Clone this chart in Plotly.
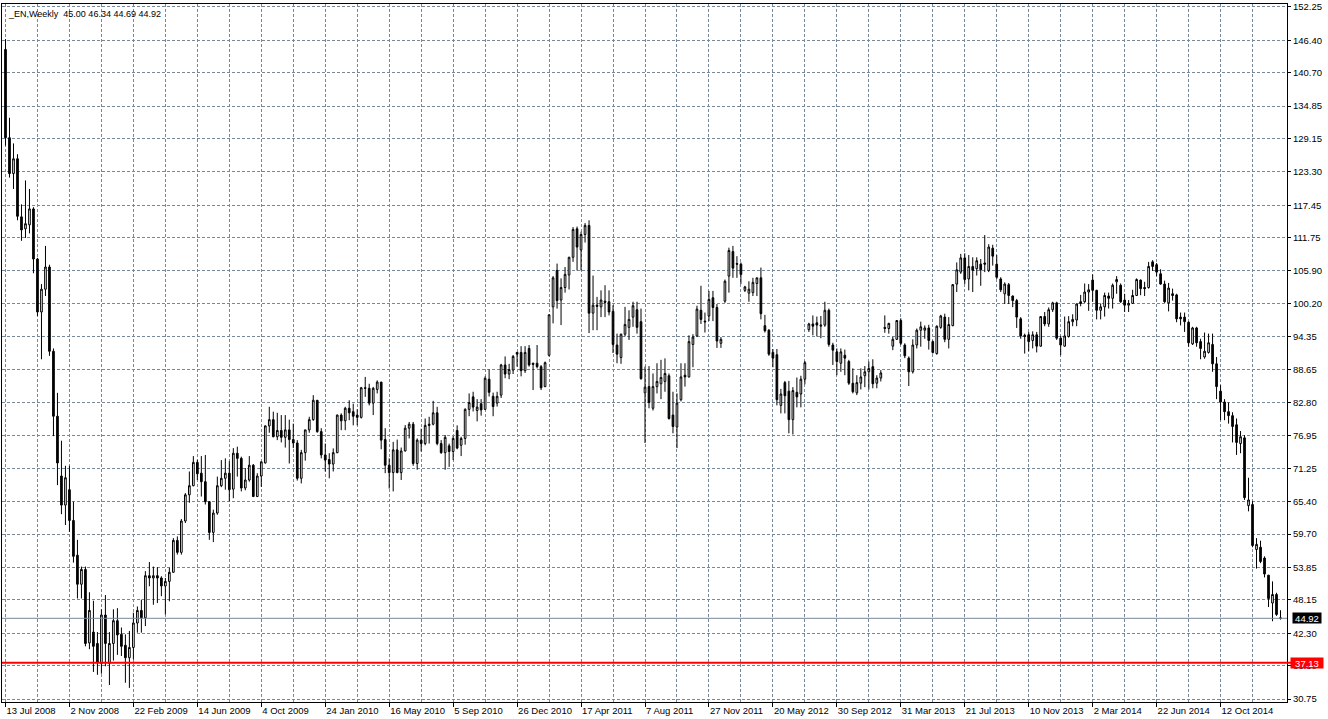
import plotly.graph_objects as go

# ---------------- data ----------------
symbol_title = "_EN,Weekly"
last_ohlc = ["45.00", "46.34", "44.69", "44.92"]

date_labels = ["13 Jul 2008", "2 Nov 2008", "22 Feb 2009", "14 Jun 2009", "4 Oct 2009",
               "24 Jan 2010", "16 May 2010", "5 Sep 2010", "26 Dec 2010", "17 Apr 2011",
               "7 Aug 2011", "27 Nov 2011", "20 May 2012", "30 Sep 2012", "31 Mar 2013",
               "21 Jul 2013", "10 Nov 2013", "2 Mar 2014", "22 Jun 2014", "12 Oct 2014"]
bars_per_label = 16
bars_per_grid = 8

price_labels = ["152.25", "146.40", "140.70", "134.85", "129.15", "123.30", "117.45",
                "111.75", "105.90", "100.20", "94.35", "88.65", "82.80", "76.95", "71.25",
                "65.40", "59.70", "53.85", "48.15", "42.30", "36.60", "30.75"]

bid_price = 44.92
level_price = 37.13

open_ = [
    144.8, 129.3, 123.0, 125.6, 115.4, 113.3, 114.0, 116.8, 108.0, 98.7,
    102.7, 106.6, 91.8, 80.4, 69.9, 64.8, 67.5, 62.1, 56.0, 50.9,
    53.5, 40.6, 42.5, 40.5, 37.0, 45.5, 37.0, 40.5, 44.5, 42.1,
    40.2, 38.0, 39.8, 44.1, 46.3, 45.0, 52.4, 52.0, 52.4, 52.0,
    50.6, 51.4, 53.0, 58.6, 56.5, 62.0, 66.6, 68.2, 72.3, 70.4,
    68.9, 65.4, 60.0, 63.4, 68.2, 69.5, 70.4, 67.6, 73.9, 73.0,
    67.8, 69.2, 71.8, 66.3, 69.9, 72.2, 78.7, 79.8, 76.8, 77.9,
    76.7, 78.0, 76.3, 75.7, 69.5, 74.0, 78.0, 79.8, 83.2, 77.7,
    73.6, 72.8, 72.0, 74.0, 80.6, 79.6, 81.8, 81.2, 80.6, 80.2,
    85.4, 85.3, 82.7, 85.1, 86.4, 76.3, 71.8, 70.5, 74.5, 70.5,
    74.3, 78.3, 79.0, 72.1, 76.2, 75.6, 79.0, 79.0, 81.0, 75.6,
    74.0, 75.2, 74.2, 77.9, 75.3, 76.5, 81.6, 83.8, 81.4, 82.6,
    81.6, 86.9, 83.9, 82.7, 84.1, 89.4, 87.8, 88.5, 91.6, 91.6,
    88.4, 92.3, 89.7, 89.7, 89.1, 85.6, 91.1, 99.6, 106.0, 100.8,
    103.0, 105.2, 108.3, 113.3, 109.6, 112.3, 113.9, 98.5, 99.9, 99.6,
    100.6, 100.5, 98.8, 92.9, 90.7, 94.8, 96.0, 97.8, 99.1, 97.0,
    84.5, 85.6, 81.8, 85.6, 86.1, 86.5, 87.5, 80.6, 78.5, 83.3,
    87.6, 87.3, 93.0, 94.5, 99.0, 97.1, 98.0, 101.2, 99.5, 93.2,
    100.6, 105.0, 109.3, 107.2, 107.1, 102.5, 102.0, 102.1, 103.7, 104.7,
    96.3, 95.5, 91.6, 91.2, 82.3, 86.3, 84.8, 79.8, 84.6, 84.3,
    86.9, 95.6, 96.6, 96.8, 96.2, 96.4, 99.0, 92.9, 91.7, 89.7,
    91.1, 90.0, 86.2, 84.5, 86.2, 87.5, 88.2, 89.1, 86.2, 87.1,
    96.0, 95.8, 92.7, 93.9, 97.2, 92.9, 90.6, 88.2, 92.9, 95.5,
    95.5, 95.9, 93.5, 91.4, 96.0, 97.8, 93.9, 96.3, 103.6, 105.7,
    108.2, 104.5, 106.7, 106.3, 107.1, 107.3, 106.0, 109.9, 107.1, 104.5,
    101.9, 103.5, 101.5, 100.7, 97.5, 94.6, 94.7, 93.7, 94.7, 92.7,
    97.9, 96.6, 99.1, 100.3, 94.1, 92.7, 94.4, 97.0, 97.3, 100.5,
    100.5, 102.2, 104.3, 102.5, 99.0, 99.6, 101.5, 101.1, 104.0, 103.4,
    100.8, 99.9, 100.2, 101.6, 104.3, 103.0, 103.0, 107.5, 107.0, 105.4,
    103.6, 100.3, 101.9, 101.7, 97.8, 97.8, 96.9, 93.1, 95.9, 93.5,
    90.8, 91.6, 93.0, 89.6, 84.8, 82.9, 81.2, 80.5, 78.9, 75.6,
    76.6, 64.7, 64.9, 57.0, 57.4, 55.5, 52.5, 47.6, 49.1, 45.00,
]

high_ = [
    146.6, 132.8, 128.3, 126.4, 117.6, 121.8, 120.3, 117.1, 108.2, 103.6,
    110.3, 107.0, 92.3, 84.5, 76.1, 71.7, 71.7, 65.4, 58.7, 54.0,
    54.0, 49.5, 48.0, 42.5, 46.5, 49.0, 42.5, 46.5, 46.7, 43.3,
    42.1, 42.7, 45.9, 47.0, 48.2, 53.2, 54.8, 54.0, 53.9, 52.3,
    52.0, 53.8, 59.0, 59.3, 62.35, 66.9, 70.7, 73.4, 72.75, 73.4,
    73.6, 65.4, 64.0, 69.8, 72.7, 73.0, 72.5, 74.8, 75.05, 73.3,
    71.3, 73.4, 72.0, 70.4, 72.4, 78.8, 82.05, 81.2, 81.0, 80.6,
    80.6, 79.8, 79.1, 76.2, 74.5, 78.0, 80.3, 84.1, 83.2, 78.3,
    75.6, 73.9, 74.75, 80.7, 80.9, 82.05, 83.2, 82.6, 81.6, 85.55,
    87.3, 86.1, 85.55, 86.7, 86.4, 78.3, 73.0, 75.9, 76.3, 74.9,
    78.85, 79.4, 79.4, 76.5, 78.2, 80.0, 80.3, 83.1, 82.05, 76.2,
    77.1, 75.6, 76.9, 78.8, 76.8, 81.8, 84.4, 84.7, 83.4, 83.4,
    87.4, 88.6, 84.55, 84.7, 89.6, 90.9, 89.6, 91.15, 91.7, 92.7,
    92.7, 92.9, 89.8, 92.9, 89.4, 90.0, 98.3, 105.0, 107.2, 104.6,
    106.6, 108.4, 113.6, 113.7, 112.8, 114.3, 114.8, 105.1, 101.35, 102.5,
    103.4, 102.5, 99.9, 94.9, 94.9, 99.6, 99.0, 100.5, 100.5, 99.3,
    89.1, 89.2, 87.9, 89.7, 90.3, 90.55, 87.9, 84.7, 84.4, 89.7,
    89.7, 94.6, 94.8, 99.8, 103.3, 98.6, 102.4, 102.4, 100.1, 94.3,
    104.4, 110.0, 110.3, 108.5, 107.4, 103.3, 104.1, 104.7, 104.7, 106.5,
    98.2, 95.7, 92.2, 92.2, 85.2, 86.6, 86.6, 85.5, 87.2, 87.5,
    90.1, 96.8, 98.1, 97.9, 98.0, 100.5, 99.3, 93.3, 92.3, 92.3,
    92.1, 90.3, 88.8, 87.6, 88.8, 89.2, 90.0, 90.4, 87.6, 88.5,
    98.1, 96.8, 94.35, 97.3, 97.6, 93.2, 90.9, 93.9, 95.8, 97.0,
    96.35, 96.45, 93.7, 96.35, 98.2, 98.4, 97.8, 103.6, 107.4, 108.9,
    109.0, 108.7, 108.3, 108.3, 108.0, 112.2, 110.6, 110.5, 108.7, 104.8,
    103.9, 103.8, 101.6, 101.0, 97.8, 94.9, 95.2, 95.3, 95.2, 97.97,
    98.7, 99.5, 100.5, 100.5, 94.5, 97.9, 97.97, 98.3, 100.2, 101.7,
    103.7, 103.6, 105.3, 102.6, 100.2, 102.1, 102.1, 103.7, 105.0, 103.7,
    101.9, 100.8, 102.6, 104.6, 104.4, 104.0, 107.5, 107.8, 107.3, 106.2,
    104.2, 103.8, 102.8, 101.9, 98.6, 98.6, 97.05, 96.1, 96.1, 94.0,
    95.1, 94.9, 94.9, 90.8, 85.85, 83.4, 82.8, 81.1, 80.0, 77.8,
    77.1, 69.6, 65.5, 59.0, 58.55, 55.8, 52.5, 51.4, 49.4, 46.34,
]

low_ = [
    127.9, 122.3, 120.3, 114.8, 111.2, 111.7, 112.5, 105.5, 98.0, 90.4,
    101.5, 91.0, 76.9, 68.3, 63.2, 61.3, 60.1, 54.7, 48.4, 48.4,
    40.0, 39.5, 35.5, 35.0, 35.2, 36.5, 33.2, 37.5, 38.5, 38.3,
    33.6, 32.7, 37.7, 42.4, 42.4, 43.55, 50.55, 47.3, 47.6, 48.8,
    45.6, 47.9, 52.9, 56.1, 56.1, 61.65, 65.2, 68.1, 69.2, 66.3,
    64.9, 58.7, 58.3, 63.1, 67.95, 67.5, 65.45, 66.0, 69.8, 67.2,
    67.4, 68.9, 66.2, 66.2, 68.0, 72.1, 77.5, 76.7, 76.2, 75.8,
    74.9, 72.1, 74.8, 69.1, 68.6, 72.6, 77.5, 79.6, 77.5, 73.0,
    70.7, 69.5, 70.7, 73.9, 77.95, 77.95, 79.7, 78.8, 78.8, 80.0,
    83.8, 82.3, 80.6, 84.4, 74.6, 70.4, 67.7, 67.2, 70.4, 69.2,
    74.2, 76.5, 71.7, 71.0, 74.2, 75.3, 75.6, 78.8, 75.3, 73.8,
    71.0, 71.5, 72.7, 74.6, 73.4, 75.4, 80.4, 81.23, 79.5, 80.5,
    81.5, 83.86, 80.4, 82.1, 83.6, 87.07, 86.9, 87.8, 89.1, 87.4,
    88.0, 89.1, 85.0, 88.8, 85.0, 85.5, 90.9, 96.7, 99.3, 96.4,
    102.1, 102.65, 107.5, 106.0, 106.0, 110.9, 95.0, 95.5, 95.5, 97.8,
    97.8, 98.1, 91.5, 89.7, 89.6, 94.4, 93.8, 96.1, 94.9, 86.8,
    75.7, 81.8, 81.4, 84.4, 83.4, 84.7, 79.8, 77.4, 74.8, 83.0,
    85.6, 87.2, 89.0, 94.3, 96.6, 95.1, 97.1, 97.1, 92.4, 92.4,
    100.3, 102.1, 104.7, 104.7, 103.6, 102.2, 100.5, 101.5, 101.5, 97.4,
    95.1, 91.0, 89.0, 82.3, 80.9, 80.9, 77.4, 77.2, 81.96, 81.96,
    86.0, 95.2, 94.6, 94.4, 94.1, 96.1, 92.6, 89.4, 87.6, 88.2,
    87.6, 85.9, 84.4, 84.1, 85.1, 85.5, 85.1, 85.3, 85.3, 86.5,
    95.05, 94.9, 92.0, 93.8, 92.9, 90.6, 85.7, 87.9, 92.3, 92.6,
    94.0, 92.1, 91.4, 91.2, 95.75, 93.4, 92.3, 96.2, 102.2, 105.4,
    103.6, 102.5, 102.2, 105.1, 103.3, 105.7, 105.7, 106.85, 104.5, 102.2,
    100.1, 100.1, 99.55, 95.9, 94.0, 91.4, 91.8, 92.3, 91.6, 92.6,
    96.2, 96.1, 98.7, 93.8, 91.1, 92.6, 94.2, 96.2, 96.2, 99.7,
    100.3, 98.9, 100.5, 97.4, 97.4, 97.9, 99.3, 99.3, 101.9, 100.3,
    98.7, 98.7, 100.1, 101.5, 101.65, 101.5, 102.8, 105.9, 105.0, 103.5,
    100.3, 98.8, 100.7, 96.9, 96.35, 95.2, 92.6, 92.9, 92.6, 90.4,
    90.5, 91.4, 88.2, 83.4, 79.7, 79.7, 79.1, 75.8, 73.6, 73.9,
    65.7, 63.7, 57.4, 53.65, 54.6, 52.1, 46.9, 44.4, 45.35, 44.69,
]

close_ = [
    129.3, 123.0, 125.6, 115.5, 113.1, 114.2, 116.8, 108.0, 98.7, 102.7,
    106.6, 91.8, 80.4, 72.2, 64.8, 69.6, 62.1, 55.8, 50.9, 53.5,
    40.5, 46.3, 40.0, 37.2, 45.5, 40.5, 40.5, 44.5, 42.0, 40.0,
    38.0, 39.8, 44.1, 46.3, 45.0, 52.4, 52.0, 52.4, 52.0, 50.6,
    51.4, 53.0, 58.6, 56.5, 62.0, 66.6, 68.2, 72.3, 70.3, 68.9,
    65.4, 60.0, 63.4, 68.2, 69.5, 70.4, 67.5, 73.9, 73.0, 67.8,
    69.2, 71.8, 66.3, 69.9, 72.4, 78.7, 79.8, 76.8, 77.9, 76.7,
    78.0, 76.3, 75.7, 69.5, 74.0, 78.0, 79.8, 83.2, 77.7, 73.6,
    72.7, 72.0, 74.0, 80.6, 79.6, 81.8, 81.0, 80.4, 80.2, 85.4,
    85.3, 82.7, 85.3, 86.4, 76.2, 71.8, 70.5, 74.5, 70.5, 74.3,
    78.3, 79.0, 72.1, 76.2, 75.6, 78.8, 78.8, 81.0, 75.6, 74.0,
    76.7, 74.2, 76.5, 74.8, 76.5, 81.6, 82.8, 82.0, 82.0, 81.5,
    87.07, 84.6, 82.1, 83.9, 89.4, 87.8, 88.6, 90.9, 91.3, 88.4,
    91.6, 89.4, 89.5, 89.1, 85.4, 89.8, 98.2, 104.7, 100.7, 103.0,
    105.3, 108.3, 113.2, 110.1, 112.3, 113.9, 98.5, 99.9, 99.7, 100.8,
    100.4, 98.7, 93.0, 91.3, 94.8, 96.5, 97.4, 99.8, 96.0, 87.0,
    85.5, 82.8, 85.6, 86.5, 87.2, 87.9, 80.0, 78.6, 82.7, 87.3,
    87.3, 93.5, 94.3, 99.2, 97.4, 96.97, 100.9, 99.5, 93.6, 93.9,
    104.1, 109.5, 106.4, 107.1, 105.3, 103.1, 102.7, 103.9, 104.7, 98.4,
    95.4, 91.3, 90.6, 83.3, 84.3, 84.0, 79.8, 84.9, 83.8, 86.9,
    89.8, 96.6, 96.2, 96.4, 96.4, 99.0, 93.0, 92.0, 90.0, 91.7,
    90.6, 86.2, 84.7, 86.3, 87.3, 88.2, 88.8, 86.1, 87.1, 88.0,
    95.8, 96.7, 93.9, 97.2, 93.2, 91.0, 88.2, 92.9, 95.5, 96.1,
    95.9, 93.7, 91.6, 96.2, 98.0, 93.9, 96.5, 103.5, 106.1, 108.2,
    104.4, 106.7, 106.0, 107.7, 106.1, 107.1, 110.1, 108.5, 104.8, 102.6,
    103.6, 101.6, 100.7, 97.8, 94.5, 94.4, 93.5, 94.7, 92.7, 97.9,
    96.6, 99.1, 100.3, 94.1, 92.9, 94.5, 97.0, 97.4, 100.1, 100.2,
    102.2, 102.6, 102.5, 99.0, 99.6, 101.6, 101.1, 103.4, 104.4, 100.5,
    99.9, 100.2, 101.6, 104.4, 102.8, 102.8, 106.7, 106.7, 105.7, 103.6,
    100.5, 102.9, 101.6, 97.5, 97.5, 97.0, 93.3, 95.9, 93.3, 92.3,
    91.8, 93.3, 89.6, 85.6, 82.9, 81.2, 80.5, 78.6, 75.8, 76.8,
    66.1, 65.7, 57.7, 57.9, 54.9, 52.7, 48.4, 49.1, 45.6, 44.92,
]

# ---------------- figure ----------------
W, H = 1328, 719
PLOT_L, PLOT_R, PLOT_T, PLOT_B = 1, 1287, 2, 702   # plot frame in pixels
BAR_PX, BAR0_PX = 4.0, 4.5                          # bar spacing / first bar centre
Y_TOP_PX, Y_BOT_PX = 5.0, 699.0                     # pixel rows of top/bottom price labels

n = len(close_)
x = list(range(n))

p_top, p_bot = float(price_labels[0]), float(price_labels[-1])
ppx = (p_top - p_bot) / (Y_BOT_PX - Y_TOP_PX)
y_range = [p_bot - (PLOT_B - Y_BOT_PX) * ppx, p_top + (Y_TOP_PX - PLOT_T) * ppx]
x_range = [(PLOT_L - BAR0_PX) / BAR_PX, (PLOT_R - BAR0_PX) / BAR_PX]

GRID = "#778899"
FONT = "Liberation Sans"

fig = go.Figure(go.Candlestick(
    x=x, open=open_, high=high_, low=low_, close=close_,
    increasing=dict(line=dict(color="black", width=1), fillcolor="white"),
    decreasing=dict(line=dict(color="black", width=1), fillcolor="black"),
    whiskerwidth=0, hoverinfo="skip", showlegend=False,
))

fig.update_layout(
    width=W, height=H,
    margin=dict(l=PLOT_L, r=W - PLOT_R, t=PLOT_T, b=H - PLOT_B, pad=0),
    paper_bgcolor="white", plot_bgcolor="white",
    showlegend=False, boxgap=0.4,
    font=dict(family=FONT, size=9, color="black"),
)

fig.update_xaxes(
    range=x_range, rangeslider_visible=False, zeroline=False,
    tickmode="array",
    tickvals=[k * bars_per_label for k in range(len(date_labels))],
    ticktext=date_labels,
    ticks="outside", ticklen=4, tickcolor="black", tickwidth=1,
    ticklabelposition="outside right", ticklabeloverflow="allow",
    tickfont=dict(family=FONT, size=9.5, color="black"),
    showgrid=True, gridcolor=GRID, gridwidth=1, griddash="3px,2px",
    minor=dict(tickmode="array", tickvals=list(range(0, n, bars_per_grid)),
               showgrid=True, gridcolor=GRID, gridwidth=1, griddash="3px,2px", ticks=""),
    showline=True, linecolor="black", linewidth=1, mirror=True,
)

fig.update_yaxes(
    range=y_range, side="right", zeroline=False,
    tickmode="array", tickvals=[float(t) for t in price_labels], ticktext=price_labels,
    ticks="outside", ticklen=3, tickcolor="black", tickwidth=1,
    ticklabeloverflow="allow",
    tickfont=dict(family=FONT, size=9.5, color="black"),
    showgrid=True, gridcolor=GRID, gridwidth=1, griddash="3px,2px",
    showline=True, linecolor="black", linewidth=1, mirror=True,
)

# bid line and horizontal level
fig.add_shape(type="line", xref="paper", yref="y", x0=0, x1=1, y0=bid_price, y1=bid_price,
              line=dict(color=GRID, width=1))
fig.add_shape(type="line", xref="paper", yref="y", x0=0, x1=1.004, y0=level_price, y1=level_price,
              line=dict(color="#FF0000", width=2))

pw = PLOT_R - PLOT_L
ph = PLOT_B - PLOT_T

def px_x(v):
    return (v - PLOT_L) / pw

def px_y(v):
    return (PLOT_B - v) / ph

fig.add_annotation(xref="paper", yref="paper", x=px_x(5), y=px_y(12),
                   xanchor="left", yanchor="middle", showarrow=False,
                   text=symbol_title + "\u00a0\u00a0" + " ".join(last_ohlc),
                   font=dict(family=FONT, size=9, color="black"))

fig.add_annotation(xref="paper", yref="y", x=px_x(1292), y=bid_price,
                   xanchor="left", yanchor="middle", showarrow=False,
                   text=f"{bid_price:.2f}", width=28, height=10, borderpad=0,
                   bgcolor="black", font=dict(family=FONT, size=9.5, color="white"))

fig.add_annotation(xref="paper", yref="y", x=px_x(1290), y=level_price,
                   xanchor="left", yanchor="middle", showarrow=False,
                   text=f"{level_price:.2f}", width=32, height=10, borderpad=0,
                   bgcolor="#FF0000", font=dict(family=FONT, size=9.5, color="white"))

fig.write_html(
    "out.html",
    config={"displayModeBar": False},
    post_script="document.body.style.margin='0px';document.body.style.padding='0px';",
)
